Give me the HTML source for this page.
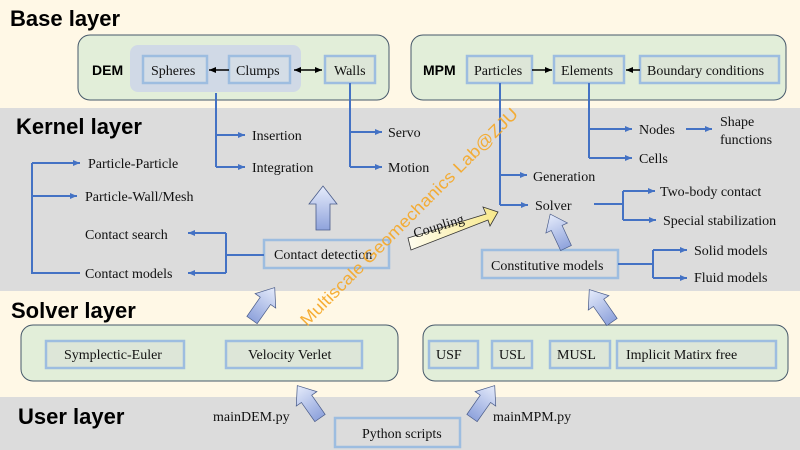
<!DOCTYPE html>
<html><head><meta charset="utf-8"><style>body{margin:0}svg{display:block}</style></head><body>
<svg width="800" height="450" viewBox="0 0 800 450" xmlns="http://www.w3.org/2000/svg">
<defs>
<linearGradient id="bg" x1="0" y1="0" x2="0" y2="1"><stop offset="0" stop-color="#e6ecfb"/><stop offset="1" stop-color="#8fa3dc"/></linearGradient>
<linearGradient id="yg" x1="0" y1="0" x2="1" y2="0"><stop offset="0" stop-color="#fffdf0"/><stop offset="1" stop-color="#f7e88a"/></linearGradient>
<marker id="a" markerWidth="8" markerHeight="8" refX="7" refY="4" orient="auto" markerUnits="userSpaceOnUse"><path d="M0,1 L7,4 L0,7z" fill="#4472c4"/></marker>
<marker id="k" markerWidth="8" markerHeight="8" refX="7" refY="4" orient="auto" markerUnits="userSpaceOnUse"><path d="M0,1 L7,4 L0,7z" fill="#000"/></marker>
<marker id="ks" markerWidth="8" markerHeight="8" refX="1" refY="4" orient="auto" markerUnits="userSpaceOnUse"><path d="M8,1 L1,4 L8,7z" fill="#000"/></marker>
<g id="ba"><polygon points="-7,0 7,0 7,-26 14,-26 0,-44 -14,-26 -7,-26" fill="url(#bg)" stroke="#4a5c8a" stroke-width="0.8"/></g>
</defs>
<rect width="800" height="450" fill="#fff8e6"/>
<rect x="0" y="108" width="800" height="183" fill="#dcdcdc"/>
<rect x="0" y="397" width="800" height="53" fill="#dcdcdc"/>
<g font-family="Liberation Sans, sans-serif" font-weight="bold" font-size="22" fill="#000">
<text x="10" y="26">Base layer</text>
<text x="16" y="134">Kernel layer</text>
<text x="11" y="318">Solver layer</text>
<text x="18" y="424">User layer</text>
</g>
<g stroke="#46586a" stroke-width="1" fill="#e2eed9">
<rect x="78" y="35" width="311" height="65" rx="12"/>
<rect x="411" y="35" width="375" height="65" rx="12"/>
<rect x="21" y="325" width="377" height="56" rx="12"/>
<rect x="423" y="325" width="365" height="56" rx="12"/>
</g>
<rect x="130" y="45" width="171" height="47" rx="8" fill="#d0d9e6"/>
<g font-family="Liberation Sans, sans-serif" font-weight="bold" font-size="14"><text x="92" y="75">DEM</text><text x="423" y="75">MPM</text></g>
<g stroke="#9dbde0" stroke-width="2.5" fill="#dde6d8">
<rect x="143" y="56" width="64" height="27" fill="#d4dde6"/>
<rect x="229" y="56" width="61" height="27" fill="#d4dde6"/>
<rect x="325" y="56" width="50" height="27"/>
<rect x="467" y="56" width="65" height="27"/>
<rect x="554" y="56" width="70" height="27"/>
<rect x="640" y="56" width="139" height="27"/>
<rect x="264" y="240" width="125" height="28" fill="#dcdcdc"/>
<rect x="482" y="250" width="136" height="28" fill="#dcdcdc"/>
<rect x="46" y="341" width="138" height="27"/>
<rect x="226" y="341" width="136" height="27"/>
<rect x="429" y="341" width="49" height="27"/>
<rect x="492" y="341" width="40" height="27"/>
<rect x="550" y="341" width="60" height="27"/>
<rect x="617" y="341" width="159" height="27"/>
<rect x="335" y="418" width="125" height="29" fill="#dcdcdc"/>
</g>
<g stroke="#000" stroke-width="1.5" fill="none">
<line x1="229" y1="70" x2="209" y2="70" marker-end="url(#k)"/>
<line x1="294" y1="70" x2="322" y2="70" marker-end="url(#k)" marker-start="url(#ks)"/>
<line x1="532" y1="70" x2="552" y2="70" marker-end="url(#k)"/>
<line x1="640" y1="70" x2="626" y2="70" marker-end="url(#k)"/>
</g>
<g stroke="#4472c4" stroke-width="2" fill="none">
<path d="M216,93 V167"/><line x1="216" y1="135" x2="245" y2="135" marker-end="url(#a)"/><line x1="216" y1="167" x2="245" y2="167" marker-end="url(#a)"/>
<path d="M350,83 V167"/><line x1="350" y1="132" x2="382" y2="132" marker-end="url(#a)"/><line x1="350" y1="167" x2="382" y2="167" marker-end="url(#a)"/>
<path d="M80,273 H32 V163"/><line x1="32" y1="163" x2="80" y2="163" marker-end="url(#a)"/><line x1="32" y1="196" x2="77" y2="196" marker-end="url(#a)"/>
<path d="M264,255 H226 M226,233 V273"/><line x1="226" y1="233" x2="188" y2="233" marker-end="url(#a)"/><line x1="226" y1="273" x2="188" y2="273" marker-end="url(#a)"/>
<path d="M500,83 V205"/><line x1="500" y1="175" x2="527" y2="175" marker-end="url(#a)"/><line x1="500" y1="205" x2="528" y2="205" marker-end="url(#a)"/>
<path d="M589,83 V158"/><line x1="589" y1="129" x2="632" y2="129" marker-end="url(#a)"/><line x1="589" y1="158" x2="632" y2="158" marker-end="url(#a)"/>
<line x1="686" y1="129" x2="712" y2="129" marker-end="url(#a)"/>
<path d="M594,204 H623 M623,191 V220"/><line x1="623" y1="191" x2="655" y2="191" marker-end="url(#a)"/><line x1="623" y1="220" x2="656" y2="220" marker-end="url(#a)"/>
<path d="M618,264 H653 M653,250 V278"/><line x1="653" y1="250" x2="687" y2="250" marker-end="url(#a)"/><line x1="653" y1="278" x2="687" y2="278" marker-end="url(#a)"/>
</g>
<use href="#ba" transform="translate(323,230)"/>
<use href="#ba" transform="translate(566,248) rotate(-25) scale(0.85)"/>
<use href="#ba" transform="translate(252,320) rotate(35) scale(0.9)"/>
<use href="#ba" transform="translate(612,322) rotate(-35) scale(0.9)"/>
<use href="#ba" transform="translate(320,418) rotate(-35) scale(0.9)"/>
<use href="#ba" transform="translate(472,418) rotate(35) scale(0.9)"/>
<polygon points="408,238 486,214 483,207 498,212 490,226 488,220 411,250" fill="url(#yg)" stroke="#333" stroke-width="0.8"/>
<g font-family="Liberation Serif, serif" font-size="14" fill="#111">
<text x="151" y="75">Spheres</text><text x="236" y="75">Clumps</text><text x="334" y="75">Walls</text>
<text x="474" y="75">Particles</text><text x="561" y="75">Elements</text><text x="647" y="75">Boundary conditions</text>
<text x="252" y="140">Insertion</text><text x="252" y="172">Integration</text>
<text x="388" y="137">Servo</text><text x="388" y="172">Motion</text>
<text x="88" y="168">Particle-Particle</text><text x="85" y="201">Particle-Wall/Mesh</text>
<text x="85" y="239">Contact search</text><text x="85" y="278">Contact models</text>
<text x="274" y="259">Contact detection</text>
<text x="533" y="181">Generation</text><text x="535" y="210">Solver</text>
<text x="639" y="134">Nodes</text><text x="639" y="163">Cells</text>
<text x="720" y="126">Shape</text><text x="720" y="144">functions</text>
<text x="660" y="196">Two-body contact</text><text x="663" y="225">Special stabilization</text>
<text x="491" y="270">Constitutive models</text>
<text x="694" y="255">Solid models</text><text x="694" y="282">Fluid models</text>
<text x="415" y="238" transform="rotate(-17 415 238)">Coupling</text>
<text x="64" y="359">Symplectic-Euler</text><text x="248" y="359">Velocity Verlet</text>
<text x="436" y="359">USF</text><text x="499" y="359">USL</text><text x="557" y="359">MUSL</text><text x="626" y="359">Implicit Matirx free</text>
<text x="213" y="421">mainDEM.py</text><text x="493" y="421">mainMPM.py</text>
<text x="362" y="438">Python scripts</text>
</g>
<text x="307" y="327" transform="rotate(-45 307 327)" font-family="Liberation Sans, sans-serif" font-size="17" fill="#f5a623" fill-opacity="0.9" textLength="300" lengthAdjust="spacingAndGlyphs">Multiscale Geomechanics Lab@ZJU</text>
</svg>
</body></html>
